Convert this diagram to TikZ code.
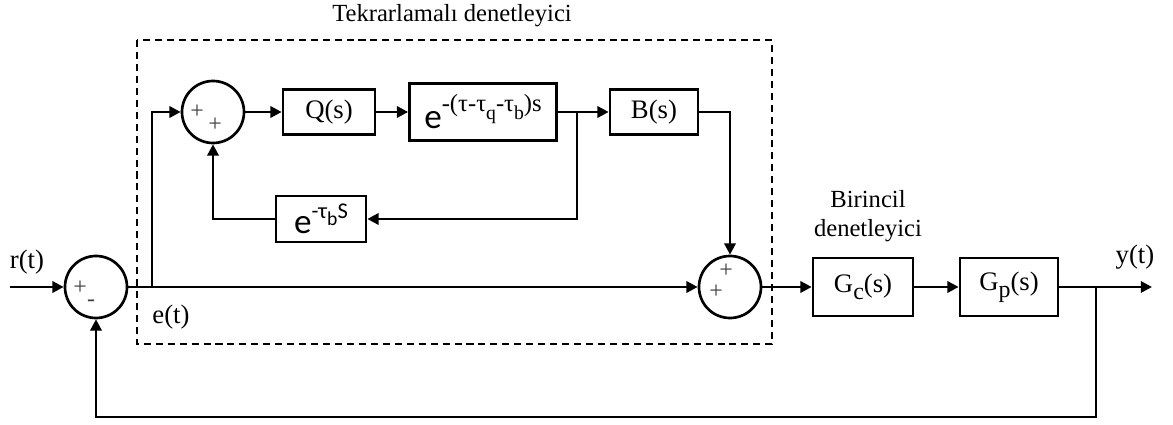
\documentclass[tikz,border=0pt]{standalone}
\usepackage{fontspec}
\setmainfont{Liberation Serif}
\newfontfamily\cfont{Carlito}
\usetikzlibrary{arrows.meta}
\newcommand{\bige}{{\cfont\fontsize{25}{25}\selectfont e}}
\newcommand{\lowsub}[1]{\raisebox{-5pt}{\fontsize{14}{14}\selectfont #1}}
\begin{document}
\begin{tikzpicture}[x=0.025cm,y=-0.025cm,line width=1.9pt,
	>={Triangle[length=8pt,width=8pt]},
	blk/.style={draw,rectangle,inner sep=0pt,font=\fontsize{19}{19}\selectfont},
	sumc/.style={draw,circle,minimum size=1.55cm,inner sep=0pt},
	sgn/.style={font=\fontsize{17}{17}\selectfont,text=black!75,inner sep=0pt,text height=7pt,text depth=0pt},
	lbl/.style={font=\fontsize{19}{19}\selectfont,inner sep=0pt},
	note/.style={font=\fontsize{17.5}{21}\selectfont,inner sep=0pt,align=center}]
	
	\useasboundingbox (0,0) rectangle (1173,425);
	
	% tekrarlamali denetleyici cercevesi
	\draw[line width=1.4pt,dash pattern=on 5pt off 3.5pt] (137,40) rectangle (772,344);
	\node[note] (tit) at (452,16) {Tekrarlamalı denetleyici};
	
	% toplama noktalari
	\node[sgn] (s1a) at (80,290) {+};
	\node[sgn] (s1b) at (91,302) {-};
	\node[sgn] (s2a) at (197,114) {+};
	\node[sgn] (s2b) at (215,127) {+};
	\node[sgn] (s3a) at (726,273) {+};
	\node[sgn] (s3b) at (716,294) {+};
	\node[sumc] (s1) at (96,287) {};
	\node[sumc] (s2) at (213,112) {};
	\node[sumc] (s3) at (730,287) {};
	
	% bloklar
	\node[blk,minimum width=2.3cm,minimum height=1.125cm] (qs) at (329,112) {Q(s)};
	\node[blk,minimum width=3.675cm,minimum height=1.425cm] (ed) at (483,112)
		{\bige\raisebox{12pt}{\fontsize{17.5}{17.5}\selectfont -(τ-τ\lowsub{q}-τ\lowsub{b})s}};
	\node[blk,minimum width=2.2cm,minimum height=1.125cm] (bs) at (654,112) {B(s)};
	\node[blk,minimum width=2.25cm,minimum height=1.15cm] (et) at (321,219)
		{\bige\raisebox{11pt}{\cfont\fontsize{16}{16}\selectfont -τ\lowsub{b}S}};
	\node[blk,minimum width=2.5cm,minimum height=1.45cm] (gc) at (863,287)
		{G\raisebox{-5pt}{\fontsize{17}{17}\selectfont c}(s)};
	\node[blk,minimum width=2.45cm,minimum height=1.45cm] (gp) at (1009,287)
		{G\raisebox{-5pt}{\fontsize{17}{17}\selectfont p}(s)};
	
	% etiketler
	\node[lbl] (rt) at (27,262) {r(t)};
	\node[lbl] (et0) at (171,317) {e(t)};
	\node[lbl] (yt) at (1135,257) {y(t)};
	\node[note] (bir) at (868,216) {Birincil\\denetleyici};
	
	% baglantilar
	\coordinate (rin) at (10,287);
	\coordinate (eb) at (152,287);
	\coordinate (fb) at (577,112);
	\coordinate (yb) at (1096,287);
	\coordinate (yout) at (1152,287);
	\coordinate (low) at (1096,417);
	\draw[->] (rin) -- (s1);
	\draw[->] (s1) -- (s3);
	\draw[->] (eb) |- (s2);
	\draw[->] (s2) -- (qs);
	\draw[->] (qs) -- (ed);
	\draw[->] (ed) -- (bs);
	\draw[->] (fb) |- (et);
	\draw[->] (et) -| (s2);
	\draw[->] (bs) -| (s3);
	\draw[->] (s3) -- (gc);
	\draw[->] (gc) -- (gp);
	\draw[->] (gp) -- (yout);
	\draw[->] (yb) -- (low) -| (s1);
	
\end{tikzpicture}
\end{document}
